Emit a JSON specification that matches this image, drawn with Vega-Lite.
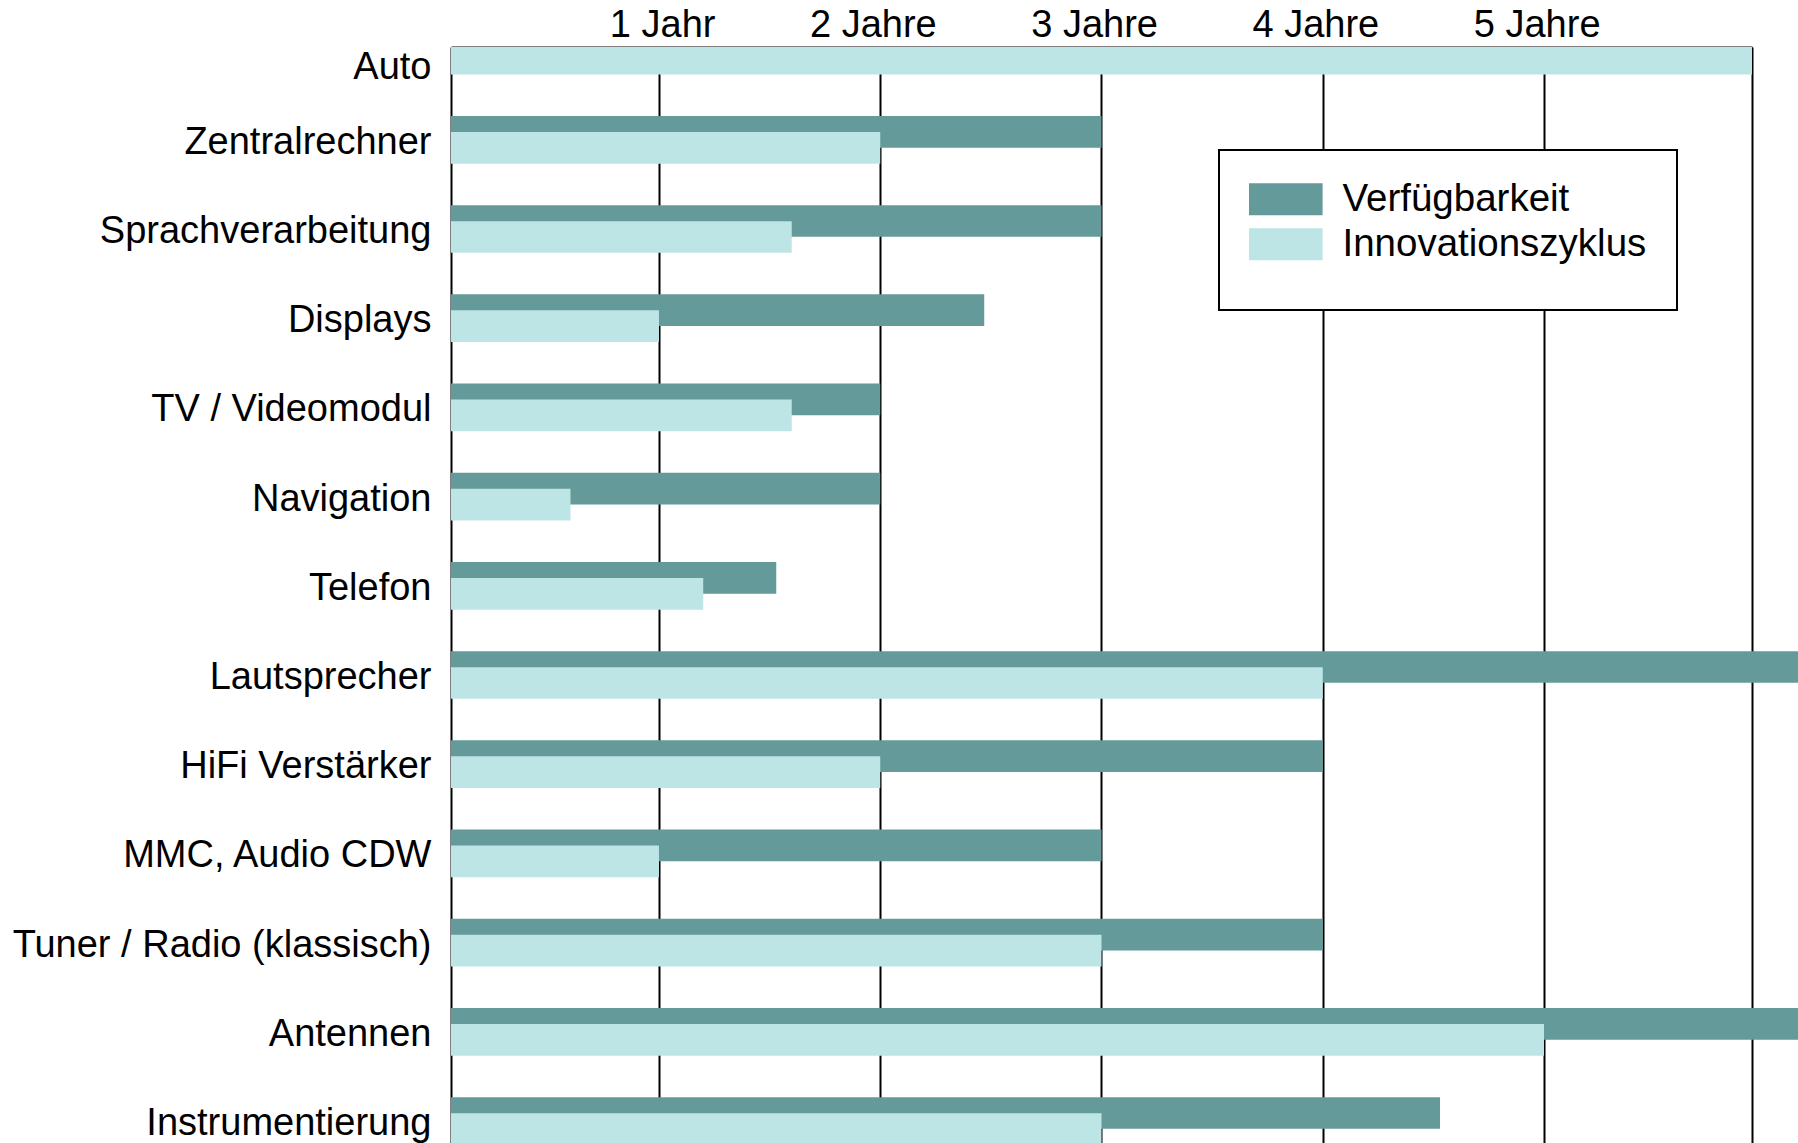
{
  "$schema": "https://vega.github.io/schema/vega-lite/v6.json",
  "width": 1301,
  "height": 1096,
  "autosize": {"type": "none"},
  "padding": {"left": 451, "top": 47, "right": 46, "bottom": 0},
  "background": "white",
  "config": {
    "view": {"stroke": null},
    "font": "Liberation Sans"
  },
  "data": {
    "values": [
      {"kategorie": "Auto", "reihe": "Innovationszyklus", "jahre": 6},
      {"kategorie": "Zentralrechner", "reihe": "Verfügbarkeit", "jahre": 3},
      {"kategorie": "Zentralrechner", "reihe": "Innovationszyklus", "jahre": 2},
      {"kategorie": "Sprachverarbeitung", "reihe": "Verfügbarkeit", "jahre": 3},
      {"kategorie": "Sprachverarbeitung", "reihe": "Innovationszyklus", "jahre": 1.6},
      {"kategorie": "Displays", "reihe": "Verfügbarkeit", "jahre": 2.47},
      {"kategorie": "Displays", "reihe": "Innovationszyklus", "jahre": 1},
      {"kategorie": "TV / Videomodul", "reihe": "Verfügbarkeit", "jahre": 2},
      {"kategorie": "TV / Videomodul", "reihe": "Innovationszyklus", "jahre": 1.6},
      {"kategorie": "Navigation", "reihe": "Verfügbarkeit", "jahre": 2},
      {"kategorie": "Navigation", "reihe": "Innovationszyklus", "jahre": 0.6},
      {"kategorie": "Telefon", "reihe": "Verfügbarkeit", "jahre": 1.53},
      {"kategorie": "Telefon", "reihe": "Innovationszyklus", "jahre": 1.2},
      {"kategorie": "Lautsprecher", "reihe": "Verfügbarkeit", "jahre": 6.5},
      {"kategorie": "Lautsprecher", "reihe": "Innovationszyklus", "jahre": 4},
      {"kategorie": "HiFi Verstärker", "reihe": "Verfügbarkeit", "jahre": 4},
      {"kategorie": "HiFi Verstärker", "reihe": "Innovationszyklus", "jahre": 2},
      {"kategorie": "MMC, Audio CDW", "reihe": "Verfügbarkeit", "jahre": 3},
      {"kategorie": "MMC, Audio CDW", "reihe": "Innovationszyklus", "jahre": 1},
      {"kategorie": "Tuner / Radio (klassisch)", "reihe": "Verfügbarkeit", "jahre": 4},
      {"kategorie": "Tuner / Radio (klassisch)", "reihe": "Innovationszyklus", "jahre": 3},
      {"kategorie": "Antennen", "reihe": "Verfügbarkeit", "jahre": 6.5},
      {"kategorie": "Antennen", "reihe": "Innovationszyklus", "jahre": 5},
      {"kategorie": "Instrumentierung", "reihe": "Verfügbarkeit", "jahre": 4.53},
      {"kategorie": "Instrumentierung", "reihe": "Innovationszyklus", "jahre": 3}
    ]
  },
  "encoding": {
    "y": {
      "field": "kategorie",
      "type": "nominal",
      "scale": {
        "domain": ["Auto", "Zentralrechner", "Sprachverarbeitung", "Displays", "TV / Videomodul", "Navigation", "Telefon", "Lautsprecher", "HiFi Verstärker", "MMC, Audio CDW", "Tuner / Radio (klassisch)", "Antennen", "Instrumentierung"],
        "paddingInner": 0.919,
        "paddingOuter": 0.103,
        "align": 0,
        "round": false
      },
      "axis": {
        "title": null,
        "ticks": false,
        "tickSize": 0,
        "domain": true,
        "domainColor": "black",
        "domainWidth": 2,
        "labelFont": "Liberation Sans",
        "labelFontSize": 38,
        "labelColor": "black",
        "labelPadding": 20,
        "labelBaseline": "alphabetic",
        "labelOffset": {"condition": {"test": "datum.value == 'Auto'", "value": 28}, "value": 14},
        "labelLimit": 0,
        "grid": false
      }
    },
    "x": {
      "field": "jahre",
      "type": "quantitative",
      "scale": {"domain": [0.06, 5.94], "zero": false, "nice": false},
      "axis": {
        "orient": "top",
        "title": null,
        "values": [1, 2, 3, 4, 5, 5.94],
        "labelExpr": "datum.value > 5.5 ? '' : (datum.value == 1 ? '1 Jahr' : datum.value + ' Jahre')",
        "ticks": false,
        "tickSize": 0,
        "domain": true,
        "domainColor": "black",
        "domainWidth": 2,
        "grid": true,
        "gridColor": "black",
        "gridWidth": 2,
        "gridOpacity": 1,
        "labelFont": "Liberation Sans",
        "labelFontSize": 38,
        "labelColor": "black",
        "labelAlign": "right",
        "labelBaseline": "alphabetic",
        "labelOffset": 56,
        "labelPadding": 11,
        "labelFlush": false,
        "labelOverlap": false,
        "labelBound": false
      }
    },
    "x2": {"datum": 0.06},
    "color": {
      "field": "reihe",
      "type": "nominal",
      "scale": {"domain": ["Verfügbarkeit", "Innovationszyklus"], "range": ["#649a99", "#bee5e5"]},
      "legend": {
        "orient": "none",
        "legendX": 768,
        "legendY": 103,
        "title": " ",
        "titleOrient": "bottom",
        "titleFontSize": 8,
        "titlePadding": 8,
        "padding": 30,
        "strokeColor": "black",
        "fillColor": "white",
        "symbolType": "M-2.3,-1H2.3V1H-2.3Z",
        "symbolSize": 1024,
        "symbolOffset": 17.55,
        "symbolStrokeWidth": 0,
        "symbolOpacity": 1,
        "labelFont": "Liberation Sans",
        "labelFontSize": 38.5,
        "labelColor": "black",
        "labelOffset": 37.4,
        "labelLimit": 0,
        "rowPadding": 6,
        "labelBaseline": "middle",
        "encode": {"legend": {"update": {"strokeWidth": {"value": 2}}}}
      }
    }
  },
  "layer": [
    {
      "transform": [{"filter": "datum.reihe == 'Verfügbarkeit'"}],
      "mark": {"type": "bar", "height": 31.7, "yOffset": -8}
    },
    {
      "transform": [{"filter": "datum.reihe == 'Innovationszyklus'"}],
      "mark": {"type": "bar", "height": 31.7, "yOffset": 8, "clip": true}
    }
  ]
}
